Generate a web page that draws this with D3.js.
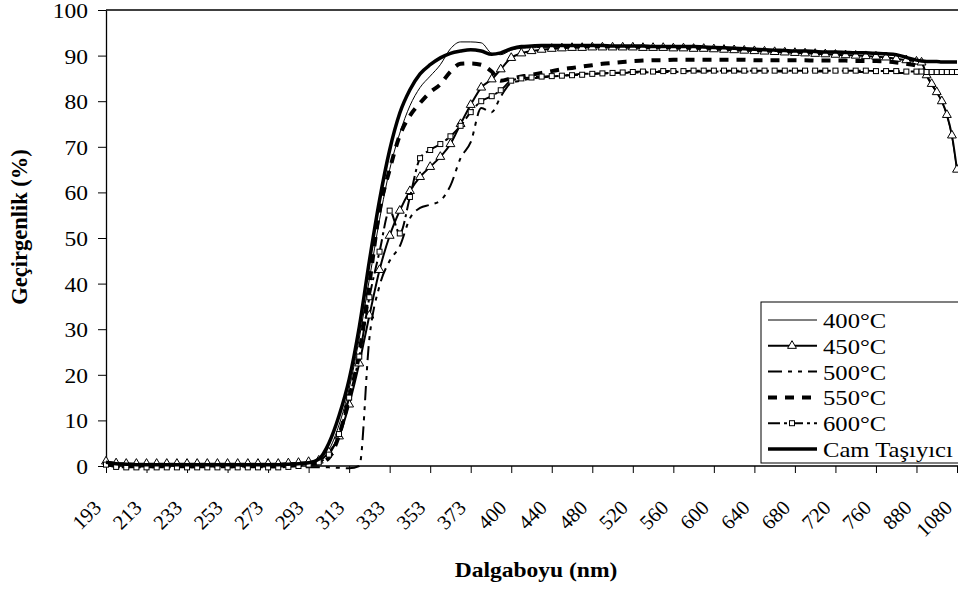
<!DOCTYPE html>
<html><head><meta charset="utf-8">
<script src="https://cdn.jsdelivr.net/npm/d3@7"></script>
<style>
body{margin:0;background:#fff}
svg{display:block}
text{font-family:"Liberation Serif","Times New Roman",serif;fill:#000}
</style>
</head><body>
<svg id="c" width="958" height="590"></svg>
<script>
// ---- data ----
const wavelengths = [193,198,203,208,213,218,223,228,233,238,243,248,253,258,263,268,273,278,283,288,293,298,303,308,313,318,323,328,333,338,343,348,353,358,363,368,373,380,387,393,400,410,420,430,440,450,460,470,480,490,500,510,520,530,540,550,560,570,580,590,600,610,620,630,640,650,660,670,680,690,700,710,720,730,740,750,760,790,820,850,880,905,930,955,980,1005,1030,1055,1080];
const xTickLabels = [193,213,233,253,273,293,313,333,353,373,400,440,480,520,560,600,640,680,720,760,880,1080];
const yTickValues = [0,10,20,30,40,50,60,70,80,90,100];

const t400 = [0.6,0.4,0.3,0.3,0.3,0.3,0.3,0.3,0.3,0.3,0.3,0.3,0.3,0.3,0.3,0.3,0.3,0.3,0.4,0.5,0.6,
  1.2,3.5,9,17,28,41,54,65,73,79,83,85.5,88,91.5,93,93,
  92.8,90.5,90.2,91.2,
  91.6,91.7,91.8,91.8,91.8,91.8,91.8,91.8,91.8,91.7,91.7,91.6,91.6,91.5,91.5,91.4,91.4,91.3,91.3,91.2,91.2,91.1,91,91,90.9,90.9,90.8,90.8,90.7,90.7,90.6,90.6,90.5,90.5,90.4,90.4,
  90.2,90,89.6,89,
  88.4,85.5,83.4,81.8,79.8,76.8,72,64.5];
const t450 = [1,0.6,0.5,0.5,0.5,0.5,0.5,0.5,0.5,0.5,0.5,0.5,0.5,0.5,0.5,0.5,0.5,0.5,0.6,0.7,0.9,
  1.2,3,6.5,13.5,22.5,33,43,50.5,56,60.3,63.4,65.6,67.8,70.6,75,79.2,
  83,84.8,87,89.5,
  90.5,91,91.3,91.5,91.6,91.7,91.7,91.8,91.8,91.8,91.8,91.8,91.7,91.7,91.7,91.6,91.6,91.5,91.5,91.4,91.3,91.2,91.1,91,90.9,90.8,90.7,90.6,90.5,90.4,90.3,90.2,90.1,90,89.9,89.8,
  89.6,89.3,89,88.7,
  88.5,85.7,83.8,82,80,77,72.5,65];
const t500 = [0.2,-0.2,-0.3,-0.3,-0.3,-0.3,-0.3,-0.3,-0.3,-0.3,-0.3,-0.3,-0.3,-0.3,-0.3,-0.3,-0.3,-0.3,-0.3,-0.3,-0.3,-0.3,-0.3,-0.4,-0.5,
  0,28,39.5,45,48.2,54.3,56.6,57.3,58.2,61.5,67.5,71,
  78.5,77.6,81,84,
  84.5,85,85.2,85.4,85.6,85.8,86,86,86.1,86.2,86.2,86.3,86.3,86.4,86.4,86.4,86.5,86.5,86.5,86.5,86.5,86.5,86.5,86.5,86.5,86.5,86.5,86.5,86.5,86.5,86.5,86.5,86.5,86.4,86.4,86.3,
  86.3,86.2,86.2,86.1,
  86,86,86,86,86,86,86,86];
const t550 = [0.3,0.2,0.1,0.1,0.1,0.1,0.1,0.1,0.1,0.1,0.1,0.1,0.1,0.1,0.1,0.1,0.1,0.1,0.2,0.3,0.4,
  0.6,1.8,6.7,15,24.7,40,56,65,72.5,76.8,79.6,82,83.7,86.5,88.2,88.3,
  88,86.5,84.5,85,
  85.4,85.8,86.2,86.6,87,87.3,87.6,87.9,88.2,88.4,88.6,88.8,88.9,89,89,89.1,89.1,89.1,89.1,89.1,89.1,89.1,89.1,89,89,89,89,89,89,88.9,88.9,88.9,88.9,88.8,88.8,88.8,
  88.7,88.5,88.2,87.8,
  86.8,86.4,86.3,86.3,86.3,86.3,86.3,86.3];
const t600 = [0.3,-0.2,-0.3,-0.3,-0.3,-0.3,-0.3,-0.3,-0.3,-0.3,-0.3,-0.3,-0.3,-0.3,-0.3,-0.3,-0.3,-0.3,-0.2,0,0.3,
  0.8,2.5,7,15,24,37,47,56,51,59,67.5,69.3,70.6,72.3,74.6,77.6,
  80,81.1,82.4,84.5,
  85,85.2,85.4,85.5,85.6,85.7,85.8,86,86.1,86.2,86.3,86.4,86.5,86.5,86.6,86.6,86.6,86.7,86.7,86.7,86.7,86.7,86.7,86.7,86.7,86.7,86.7,86.7,86.7,86.7,86.7,86.7,86.7,86.7,86.7,86.6,
  86.6,86.6,86.5,86.5,
  86.5,86.4,86.4,86.4,86.4,86.4,86.4,86.4];
const tCam = [0.8,0.5,0.4,0.3,0.3,0.3,0.3,0.3,0.3,0.3,0.3,0.3,0.3,0.3,0.3,0.3,0.3,0.3,0.4,0.5,0.7,
  1.5,5,11,19,30.5,45,58.3,69.3,77.4,82.5,86,88,89.5,90.5,91,91.3,
  91,90.3,90.6,91.5,
  92,92.1,92.2,92.2,92.2,92.2,92.2,92.2,92.2,92.1,92.1,92.1,92.1,92,92,92,92,92,91.9,91.8,91.7,91.6,91.5,91.4,91.3,91.2,91.1,91,91,90.9,90.8,90.8,90.7,90.6,90.6,90.5,
  90.4,90.2,89.6,89,
  88.8,88.7,88.7,88.7,88.6,88.6,88.6,88.6];

const seriesNames = ["400°C","450°C","500°C","550°C","600°C","Cam Taşıyıcı"];
const seriesValues = [t400,t450,t500,t550,t600,tCam];

// ---- styles ----
const styles = [
  {w:1, dash:null, marker:null},
  {w:2, dash:null, marker:"tri"},
  {w:2, dash:"14,6,4,6,4,6", marker:null},
  {w:4, dash:"9,8", marker:null},
  {w:2, dash:"12,4,3,4", marker:"sq"},
  {w:3.5, dash:null, marker:null}
];

const svg = d3.select("#c");
const L=106, R=957, T=10, B=466;
const x = d3.scaleLinear().domain(xTickLabels)
  .range(xTickLabels.map((d,i)=> L + i*(R-L)/(xTickLabels.length-1)));
const y = d3.scaleLinear().domain([0,100]).range([B,T]);

svg.append("clipPath").attr("id","clip").append("rect")
  .attr("x",L-10).attr("y",T-10).attr("width",958-L+10).attr("height",B-T+20);

// top border
svg.append("line").attr("x1",L).attr("x2",958).attr("y1",T).attr("y2",T)
  .attr("stroke","#000").attr("stroke-width",1.3);

// y axis
const yAxis = svg.append("g").attr("transform",`translate(${L},0)`)
  .call(d3.axisLeft(y).tickValues(yTickValues).tickSize(8).tickPadding(8).tickSizeOuter(0));
yAxis.attr("font-family",null);
yAxis.select(".domain").attr("stroke","#000").attr("stroke-width",1.3);
yAxis.selectAll(".tick line").attr("stroke","#000");
yAxis.selectAll(".tick text").attr("font-size",21).attr("dy","0.36em")
  .attr("transform","scale(1.12,1)");

// x axis
const xAxis = svg.append("g").attr("transform",`translate(0,${B})`)
  .call(d3.axisBottom(x).tickValues(xTickLabels).tickSize(7).tickSizeOuter(0).tickFormat(d=>d));
xAxis.attr("font-family",null);
xAxis.select(".domain").attr("stroke","#000").attr("stroke-width",1.3).attr("d",`M${L},0H958`);
xAxis.selectAll(".tick line").attr("stroke","#000");
xAxis.selectAll(".tick text")
  .attr("font-size",20.5)
  .attr("text-anchor","end").attr("y",0).attr("dy",0)
  .attr("transform","translate(-4,43) rotate(-45)");

// lines
const plot = svg.append("g").attr("clip-path","url(#clip)");
seriesValues.forEach((vals,si)=>{
  const st = styles[si];
  const pts = wavelengths.map((w,i)=>[w,vals[i]]);
  const line = d3.line().x(d=>x(d[0])).y(d=>y(d[1])).curve(d3.curveMonotoneX);
  plot.append("path").attr("d",line(pts)).attr("fill","none").attr("stroke","#000")
    .attr("stroke-width",st.w).attr("stroke-dasharray",st.dash).attr("stroke-linejoin","round");
  if(st.marker==="tri"){
    plot.selectAll(null).data(pts).enter().append("path")
      .attr("d",d3.symbol(d3.symbolTriangle,34)())
      .attr("transform",d=>`translate(${x(d[0])},${y(d[1])})`)
      .attr("fill","#fff").attr("stroke","#000").attr("stroke-width",1);
  }
  if(st.marker==="sq"){
    plot.selectAll(null).data(pts).enter().append("rect")
      .attr("x",d=>x(d[0])-2.5).attr("y",d=>y(d[1])-2.5).attr("width",5).attr("height",5)
      .attr("fill","#fff").attr("stroke","#000").attr("stroke-width",1);
  }
});

// legend
const lg = svg.append("g");
lg.append("rect").attr("x",761).attr("y",302).attr("width",210).attr("height",161)
  .attr("fill","#fff").attr("stroke","#000").attr("stroke-width",1);
seriesNames.forEach((name,i)=>{
  const st = styles[i];
  const yy = 320 + i*25.8;
  lg.append("line").attr("x1",768).attr("x2",817).attr("y1",yy).attr("y2",yy)
    .attr("stroke","#000").attr("stroke-width",st.w).attr("stroke-dasharray",st.dash);
  if(st.marker==="tri"){
    lg.append("path").attr("d",d3.symbol(d3.symbolTriangle,34)())
      .attr("transform",`translate(792,${yy})`).attr("fill","#fff").attr("stroke","#000");
  }
  if(st.marker==="sq"){
    lg.append("rect").attr("x",789.5).attr("y",yy-2.5).attr("width",5).attr("height",5)
      .attr("fill","#fff").attr("stroke","#000");
  }
  lg.append("text").attr("transform",`translate(823,${yy}) scale(1.12,1)`)
    .attr("dy","0.36em").attr("font-size",22).text(name);
});

// axis titles
svg.append("text").attr("transform","translate(536,577) scale(1.07,1)").attr("text-anchor","middle")
  .attr("font-size",22).attr("font-weight","bold").text("Dalgaboyu (nm)");
svg.append("text").attr("transform","translate(27,227) rotate(-90)").attr("text-anchor","middle")
  .attr("font-size",22.5).attr("font-weight","bold").text("Geçirgenlik (%)");
</script>
</body></html>
